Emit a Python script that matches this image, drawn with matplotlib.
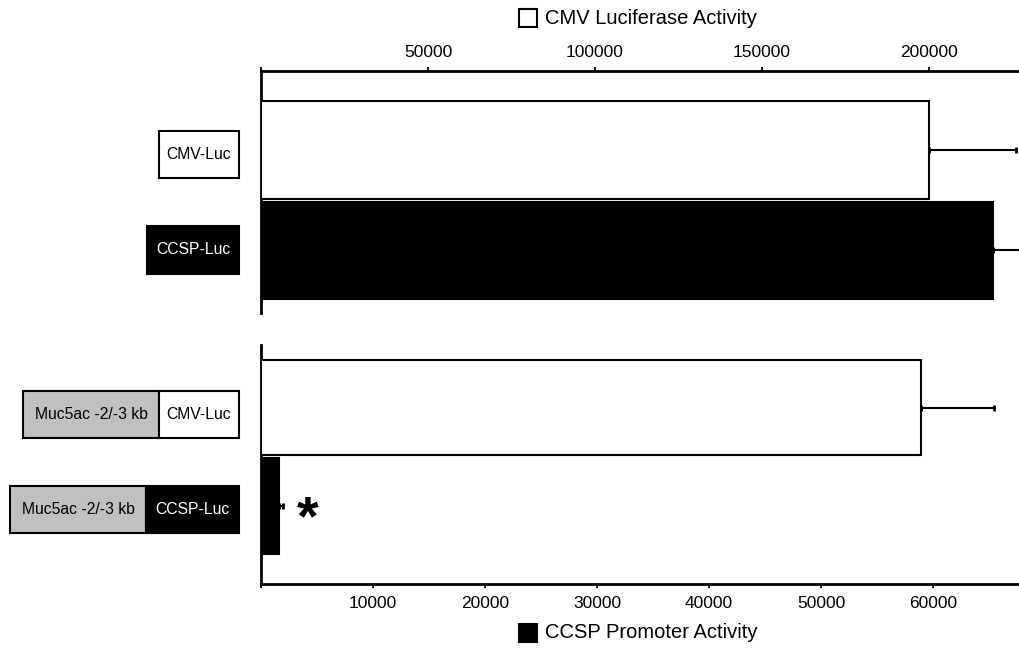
import matplotlib
matplotlib.use("Agg")
import matplotlib.pyplot as plt
from matplotlib.patches import Rectangle

plt.rcParams['font.family'] = ['Liberation Sans', 'DejaVu Sans']

# values
cmv_vals = [200000, 197700]      # white bars, CMV luciferase scale (top axis)
cmv_err = [26000, 21800]
ccsp_vals = [65400, 1600]        # black bars, CCSP promoter scale (bottom axis)
ccsp_err = [5000, 400]
cmv_ticks = [0, 50000, 100000, 150000, 200000]
ccsp_ticks = [0, 10000, 20000, 30000, 40000, 50000, 60000]
cmv_max = 226950
ccsp_max = 67680

W, H = 1019, 648
fig = plt.figure(figsize=(W / 100, H / 100), dpi=100)


def fbox(x0, y0, x1, y1):
    # pixel box (top-left origin) -> figure fraction rect
    return [x0 / W, 1 - y1 / H, (x1 - x0) / W, (y1 - y0) / H]


ekw = dict(ecolor='black', elinewidth=1.5, capsize=2.2, capthick=2)


def make_panel(rect, ylim, show_top):
    ax = fig.add_axes(rect)
    axt = ax.twiny()
    ax.set_xlim(0, ccsp_max)
    axt.set_xlim(0, cmv_max)
    ax.set_ylim(*ylim)
    for a in (ax, axt):
        a.set_facecolor('none')
        for s in a.spines.values():
            s.set_visible(False)
            s.set_linewidth(2)
    ax.spines['left'].set_visible(True)
    ax.set_yticks([])
    if show_top:
        axt.spines['top'].set_visible(True)
        axt.set_xticks(cmv_ticks)
        axt.set_xticklabels([''] + [str(t) for t in cmv_ticks[1:]])
        axt.tick_params(axis='x', direction='out', length=3, width=1.3,
                        labelsize=12.5, pad=5)
        ax.set_xticks([])
    else:
        ax.spines['bottom'].set_visible(True)
        ax.set_xticks(ccsp_ticks)
        ax.set_xticklabels([''] + [str(t) for t in ccsp_ticks[1:]])
        ax.tick_params(axis='x', direction='out', length=3, width=1.3,
                       labelsize=12.5, pad=6)
        axt.set_xticks([])
    return ax, axt


ax1, ax1t = make_panel(fbox(261, 71, W, 313), (1.62, -0.78), True)
ax2, ax2t = make_panel(fbox(261, 345, W, 584), (1.79, -0.635), False)

for i, (ax, axt) in enumerate([(ax1, ax1t), (ax2, ax2t)]):
    axt.barh(0, cmv_vals[i], height=0.97, color='white', edgecolor='black',
             linewidth=1.5, xerr=[[0], [cmv_err[i]]], error_kw=ekw)
    ax.barh(1, ccsp_vals[i], height=0.97, color='black', edgecolor='black',
            linewidth=1.5, xerr=[[0], [ccsp_err[i]]], error_kw=ekw)

ax2.text(4150, 1.14, '*', fontsize=40, fontweight='bold', ha='center',
         va='center')

# construct boxes on the left
boxes = [
    (159, 131, 239, 178, 'white', 'CMV-Luc', 'black'),
    (147, 226, 239, 274, 'black', 'CCSP-Luc', 'white'),
    (23, 391, 159, 438, '#c0c0c0', 'Muc5ac -2/-3 kb', 'black'),
    (159, 391, 239, 438, 'white', 'CMV-Luc', 'black'),
    (10, 486, 146, 533, '#c0c0c0', 'Muc5ac -2/-3 kb', 'black'),
    (146, 486, 239, 533, 'black', 'CCSP-Luc', 'white'),
]
for x0, y0, x1, y1, fc, label, tc in boxes:
    r = fbox(x0, y0, x1, y1)
    fig.add_artist(Rectangle((r[0], r[1]), r[2], r[3], transform=fig.transFigure,
                             facecolor=fc, edgecolor='black', linewidth=1.5))
    fig.text(r[0] + r[2] / 2, r[1] + r[3] / 2, label, color=tc, fontsize=11.3,
             ha='center', va='center')

# axis titles with legend squares
r = fbox(519, 9, 537, 27)
fig.add_artist(Rectangle((r[0], r[1]), r[2], r[3], transform=fig.transFigure,
                         facecolor='white', edgecolor='black', linewidth=1.5))
fig.text(545 / W, 1 - 18 / H, 'CMV Luciferase Activity', fontsize=14.5,
         ha='left', va='center')
r = fbox(519, 624, 537, 642)
fig.add_artist(Rectangle((r[0], r[1]), r[2], r[3], transform=fig.transFigure,
                         facecolor='black', edgecolor='black', linewidth=1.5))
fig.text(545 / W, 1 - 633 / H, 'CCSP Promoter Activity', fontsize=14.5,
         ha='left', va='center')

fig.savefig('out.png', dpi=100)
